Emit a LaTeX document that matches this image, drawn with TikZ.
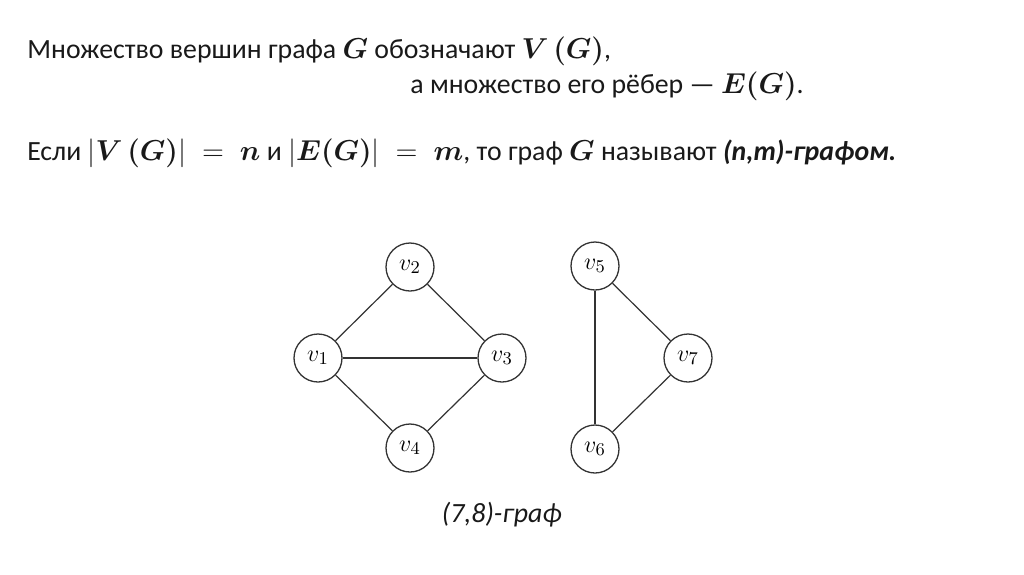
\documentclass[tikz,border=0pt]{standalone}
\usepackage{amsmath,amssymb}
\usepackage{bm}
\usepackage[no-math]{fontspec}
\setmainfont{Carlito}
\usepackage{tikz}
\usetikzlibrary{positioning}

\begin{document}
\begin{tikzpicture}[x=0.5pt,y=-0.5pt,
   txt/.style={anchor=base west,inner sep=0pt,text=black!90,font=\fontsize{13.9pt}{16pt}\selectfont},
   vert/.style={draw=black!80,circle,line width=0.65pt,minimum size=24pt,inner sep=0pt,font=\fontsize{12.5pt}{14pt}\selectfont},
   edge/.style={draw=black!80,line width=0.6pt}]
  \useasboundingbox (0,0) rectangle (1024,574);
  \node[txt] (line1) at (27,58)
        {Множество вершин графа $\bm{G}$ обозначают $\bm{V\,(G)}$,};
  \node[txt] (line2) at (410,93)
        {а множество его рёбер --- $\bm{E(G)}$.};
  \node[txt] (line3) at (27,160)
        {Если $|\bm{V\,(G)}|\;=\;\bm{n}$ и $|\bm{E(G)}|\;=\;\bm{m}$, то граф $\bm{G}$ называют \textbf{\textit{(n,m)-графом.}}};
  \node[vert] (v1) at (318,358) {$v_1$};
  \node[vert] (v2) at (410,267) {$v_2$};
  \node[vert] (v3) at (502,358) {$v_3$};
  \node[vert] (v4) at (410,448) {$v_4$};
  \node[vert] (v5) at (595,266) {$v_5$};
  \node[vert] (v7) at (688,358) {$v_7$};
  \node[vert] (v6) at (595,449) {$v_6$};
  \draw[edge] (v1) -- (v2);
  \draw[edge] (v2) -- (v3);
  \draw[edge] (v1) -- (v3);
  \draw[edge] (v1) -- (v4);
  \draw[edge] (v4) -- (v3);
  \draw[edge] (v5) -- (v6);
  \draw[edge] (v5) -- (v7);
  \draw[edge] (v7) -- (v6);
  \node[txt,anchor=base] (cap) at (502,522) {\textit{(7,8)-граф}};
\end{tikzpicture}
\end{document}
